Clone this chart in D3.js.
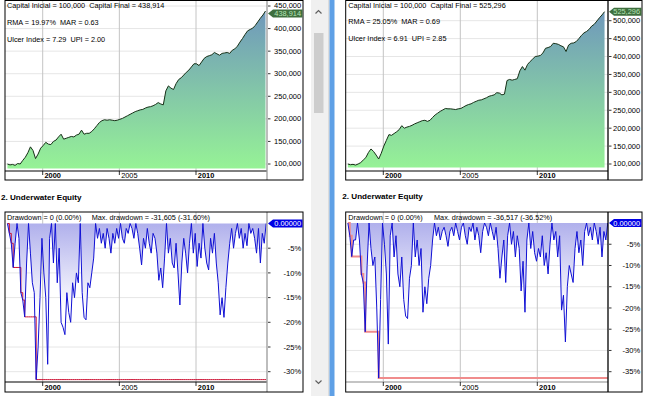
<!DOCTYPE html>
<html><head><meta charset="utf-8">
<script src="https://cdn.jsdelivr.net/npm/d3@7"></script>
<style>
html,body{margin:0;padding:0;background:#fff;overflow:hidden;}
svg{display:block;font-family:"Liberation Sans",Arial,sans-serif;}
text{white-space:pre;}
</style></head><body>
<svg id="c" width="650" height="396"></svg>
<script>
// ---------------- DATA ----------------
const yearTicks = [2000, 2005, 2010];
const equityStart = 1997.7, equityStep = 1 / 6;   // every two months
const ddStart = 1997.7, ddStep = 1 / 8;           // every 1.5 months

// equity in thousands
const equityLeft = [100,98,99,97,101,100,108,115,125,138,130,112,122,135,141,148,144,143,150,153,
  160,166,155,157,159,161,160,164,166,175,166,168,168,172,178,185,192,196,198,197,
  198,197,196,197,199,201,204,207,210,213,216,218,220,221,224,226,227,229,232,236,
  233,231,262,273,268,265,278,287,291,297,303,308,315,322,322,318,326,334,338,340,
  342,347,344,341,345,346,347,345,352,355,361,370,378,387,395,398,401,407,415,423,
  430,438.914];
const equityRight = [100,98,99,97,100,104,111,118,132,142,135,125,114,130,150,166,182,180,185,190,
  196,207,200,203,205,208,212,215,218,221,222,219,222,230,237,242,247,251,255,254,
  254,253,252,254,255,259,263,266,268,272,275,278,279,282,285,289,291,293,299,298,
  293,295,333,336,334,336,338,360,372,362,378,386,393,400,401,403,410,423,425,428,
  437,436,434,430,427,414,432,437,438,442,450,459,466,470,476,485,490,499,508,516,
  525.296];

// drawdown in percent
const drawdownLeft = [0,-2,-4,-8.9,-4,0,-3,-14,-15.5,-18.9,-8,0,-6,-12,-14,-31.6,-25,-15,-3,-10,
  -15,-28.5,-3,0,-8,0,-12,-5,-20,-21,-22.5,-14,-18,-20,-12,-15,-10,-12,0,-14,
  -19,-19.5,-12,-13,-10,-7,0,-3,-1,-4,-2,-5,-1,-3,-6,-2,-4,-1,-3,0,
  -3,-4,-1,-2,0,-1,-3,0,-2,-5,-8.4,-3,-5,-1,-4,-6,-2,-3,-6,-11.5,
  -9,-13,-7,0,-6,-3,-8,-9,-4,-10,-16.5,-8,-3,-6,-10,-4,0,-6,-2,-8.7,
  -4,-7,0,-5,-8,-9.4,-3,-6,-2,-8,-12,-18.5,-15,-19,-13,-8,-4,-1,-5,-2,
  0,-3,-1,-5,-2,-4.5,0,-2,-1,-3,-6,-1,-8,-2,-4,0];
const drawdownRight = [0,-3,-7.9,-4,-4,0,-4,-12,-14,-25.6,-10,0,-6,-10,-8,-20,-36.5,-18,0,-5,
  -12,-28.5,-3,0,-8,-3,-12,-15,-8,-18,-21.9,-22.5,-13,-10,0,-8,-4,-10,-6,-21,
  -15,-19,-13,-10,-4,0,-3,-1,-4,-2,-1,-3,-5.5,-2,-1,-3,0,-2,-4,-1,
  0,-3,-5,-1,-2,0,-4,-1,-3,-7,-2,0,-1,-3,0,-2,-4,-1,-6,-13,
  -8,-4,-14,-3,0,-5,-2,-8,-3,-6,-16,-9,-21,-4,0,-6,-2,-7,-9,-6,
  -8,-3,-10,-7,-12,-5,0,-4,-2,-8,-3,-20.5,-17,-28,-15,-10,-12,-14,-6,-2,
  -7,-4,-10,-2,0,-3,-1,-4,0,-2,-5,-1,-8,-2,-4,0];

const equityTicksLeft = [100000,150000,200000,250000,300000,350000,400000,450000];
const equityTicksRight = [100000,150000,200000,250000,300000,350000,400000,450000,500000];
const ddTicksLeft = [-5,-10,-15,-20,-25,-30];
const ddTicksRight = [-5,-10,-15,-20,-25,-30,-35];

const statsLeft = ["Capital Inicial = 100,000  Capital Final = 438,914", "RMA = 19.97%  MAR = 0.63", "Ulcer Index = 7.29  UPI = 2.00"];
const statsRight = ["Capital Inicial = 100,000  Capital Final = 525,296", "RMA = 25.05%  MAR = 0.69", "Ulcer Index = 6.91  UPI = 2.85"];
const ddTextLeft = ["Drawdown = 0 (0.00%)", "Max. drawdown = -31,605 (-31.60%)"];
const ddTextRight = ["Drawdown = 0 (0.00%)", "Max. drawdown = -36,517 (-36.52%)"];
const finalLeft = "438,914", finalRight = "525,296";
const ddCurrent = "0.00000";
const panelTitle = "2. Underwater Equity";

// ---------------- LAYOUT ----------------
const svg = d3.select("#c");
const fmt = d3.format(",");

const panels = [
  { id: "L", fx0: 5, fx1: 303, px1: 267, x2000: 42.7, x2010: 196,
    eq: equityLeft, eqTicks: equityTicksLeft, eqTop: 450000, eqTopPx: 6,
    dd: drawdownLeft, ddTicks: ddTicksLeft, ddMin: -30, ddMinPx: 371.7, dd0Px: 223.5,
    stats: statsLeft, statsY: [5.7, 22.3, 39], statsX: 7,
    ddText: ddTextLeft, ddText2X: 91.7, final: finalLeft, finalY: 13.6,
    titleX: 1, titleY: 197,
    vAxis: "#9a9a9a", hAxisEq: "#000", hAxisDd: "#000",
    red: "#cc1133", redW: 1 },
  { id: "R", fx0: 345.7, fx1: 642, px1: 608, x2000: 383.3, x2010: 537.3,
    eq: equityRight, eqTicks: equityTicksRight, eqTop: 500000, eqTopPx: 20.7,
    dd: drawdownRight, ddTicks: ddTicksRight, ddMin: -35, ddMinPx: 371.7, dd0Px: 223,
    stats: statsRight, statsY: [5, 21.7, 38.3], statsX: 348.3,
    ddText: ddTextRight, ddText2X: 434, final: finalRight, finalY: 11.8,
    titleX: 342.3, titleY: 196,
    vAxis: "#000", hAxisEq: "#000", hAxisDd: "#8a8a8a",
    red: "#f08c8c", redW: 2 }
];

// background pieces: scrollbar + splitter
svg.append("rect").attr("x", 0).attr("y", 0).attr("width", 650).attr("height", 396).attr("fill", "#fff");
svg.append("rect").attr("x", 311).attr("y", 0).attr("width", 17).attr("height", 396).attr("fill", "#f0f0f0");
svg.append("rect").attr("x", 314).attr("y", 33).attr("width", 9.5).attr("height", 80).attr("fill", "#cdcdcd");
svg.append("path").attr("d", "M315.5,13.5 L318.5,10.5 L321.5,13.5").attr("fill", "none").attr("stroke", "#606060").attr("stroke-width", 1.2);
svg.append("path").attr("d", "M315.5,380.5 L318.5,383.5 L321.5,380.5").attr("fill", "none").attr("stroke", "#606060").attr("stroke-width", 1.2);
svg.append("rect").attr("x", 328).attr("y", 0).attr("width", 1.5).attr("height", 396).attr("fill", "#dcdcdc");
svg.append("rect").attr("x", 329.5).attr("y", 0).attr("width", 5).attr("height", 396).attr("fill", "#5fa0e6");

const defs = svg.append("defs");

function valueTag(g, x0, x1, yc, fill, color, text) {
  const h = 4;
  g.append("path")
    .attr("d", `M${x0},${yc} L${x0 + 5},${yc - h} L${x1},${yc - h} L${x1},${yc + h} L${x0 + 5},${yc + h} Z`)
    .attr("fill", fill);
  g.append("text").attr("x", x1 - 1.5).attr("y", yc).attr("dy", "0.36em")
    .attr("text-anchor", "end").attr("font-size", 7.4).attr("fill", color).text(text);
}

panels.forEach(p => {
  const g = svg.append("g");
  const x = d3.scaleLinear().domain([2000, 2010]).range([p.x2000, p.x2010]);

  // ===== Equity chart =====
  const eTop = 0.5, eBot = 180, eAxis = 171;
  const yE = d3.scaleLinear().domain([100000, p.eqTop]).range([164, p.eqTopPx]);
  const eqData = p.eq.map((v, i) => ({ t: equityStart + i * equityStep, v: v * 1000 }));

  g.append("rect").attr("x", p.fx0).attr("y", eTop).attr("width", p.fx1 - p.fx0).attr("height", eBot - eTop).attr("fill", "#fff");
  const clipE = "clipE" + p.id;
  defs.append("clipPath").attr("id", clipE).append("rect")
    .attr("x", p.fx0).attr("y", eTop).attr("width", p.px1 - p.fx0).attr("height", eAxis - eTop);

  g.selectAll(null).data(p.eqTicks).join("line")
    .attr("x1", p.fx0).attr("x2", p.px1).attr("y1", d => yE(d)).attr("y2", d => yE(d))
    .attr("stroke", "#e6e6e6").attr("stroke-width", 1);
  g.selectAll(null).data(yearTicks).join("line")
    .attr("x1", d => x(d)).attr("x2", d => x(d)).attr("y1", eTop).attr("y2", eAxis)
    .attr("stroke", "#c4c4c4").attr("stroke-width", 1);

  const gradE = "gradE" + p.id;
  const lg = defs.append("linearGradient").attr("id", gradE).attr("gradientUnits", "userSpaceOnUse")
    .attr("x1", 0).attr("x2", 0).attr("y1", 8).attr("y2", 168);
  lg.append("stop").attr("offset", 0).attr("stop-color", "#6e96bc");
  lg.append("stop").attr("offset", 1).attr("stop-color", "#96f296");

  const ge = g.append("g").attr("clip-path", `url(#${clipE})`);
  ge.append("path").datum(eqData)
    .attr("d", d3.area().x(d => x(d.t)).y0(yE(90000)).y1(d => yE(d.v)))
    .attr("fill", `url(#${gradE})`);
  ge.append("path").datum(eqData)
    .attr("d", d3.line().x(d => x(d.t)).y(d => yE(d.v)))
    .attr("fill", "none").attr("stroke", "#173017").attr("stroke-width", 1);

  g.append("line").attr("x1", p.fx0).attr("x2", p.px1).attr("y1", eAxis).attr("y2", eAxis)
    .attr("stroke", p.hAxisEq).attr("stroke-width", 1);
  g.append("line").attr("x1", p.px1).attr("x2", p.px1).attr("y1", eTop).attr("y2", eBot)
    .attr("stroke", p.vAxis).attr("stroke-width", 1.3);
  g.selectAll(null).data(yearTicks).join("line")
    .attr("x1", d => x(d)).attr("x2", d => x(d)).attr("y1", eAxis).attr("y2", eAxis + 4)
    .attr("stroke", "#000").attr("stroke-width", 0.8);
  g.selectAll(null).data(yearTicks).join("text")
    .attr("x", d => x(d) + 1.8).attr("y", eAxis + 4.7).attr("dy", "0.36em")
    .attr("font-size", 7.4).attr("font-weight", d => d % 10 === 0 ? "bold" : "normal")
    .attr("fill", "#000").text(d => d);
  g.selectAll(null).data(p.eqTicks).join("line")
    .attr("x1", p.px1 + 1).attr("x2", p.px1 + 3.5).attr("y1", d => yE(d)).attr("y2", d => yE(d))
    .attr("stroke", "#000").attr("stroke-width", 0.8);
  g.selectAll(null).data(p.eqTicks).join("text")
    .attr("x", p.fx1 - 1.8).attr("y", d => yE(d)).attr("dy", "0.33em")
    .attr("text-anchor", "end").attr("font-size", 7.5).attr("fill", "#000").text(d => fmt(d));

  g.append("rect").attr("x", p.fx0).attr("y", eTop).attr("width", p.fx1 - p.fx0).attr("height", eBot - eTop)
    .attr("fill", "none").attr("stroke", "#000").attr("stroke-width", 1);

  valueTag(g, p.px1 + 1, p.fx1 - 0.5, p.finalY, "#3e6e3e", "#b6e4b6", p.final);

  g.selectAll(null).data(p.stats).join("text")
    .attr("x", p.statsX).attr("y", (d, i) => p.statsY[i]).attr("dy", "0.36em")
    .attr("font-size", 7.3).attr("fill", "#000").text(d => d);

  // ===== Underwater chart =====
  const uTop = 212, uBot = 392, uAxis = 382;
  g.append("text").attr("x", p.titleX).attr("y", p.titleY).attr("dy", "0.36em")
    .attr("font-size", 8.1).attr("font-weight", "bold").attr("fill", "#000").text(panelTitle);

  const yD = d3.scaleLinear().domain([0, p.ddMin]).range([p.dd0Px, p.ddMinPx]);
  const ddData = p.dd.map((v, i) => ({ t: ddStart + i * ddStep, v }));
  let runMin = 0;
  const maxDD = ddData.map(d => { runMin = Math.min(runMin, d.v); return { t: d.t, v: runMin }; });

  g.append("rect").attr("x", p.fx0).attr("y", uTop).attr("width", p.fx1 - p.fx0).attr("height", uBot - uTop).attr("fill", "#fff");
  const clipU = "clipU" + p.id;
  defs.append("clipPath").attr("id", clipU).append("rect")
    .attr("x", p.fx0).attr("y", uTop).attr("width", p.px1 - p.fx0).attr("height", uAxis - uTop);

  g.selectAll(null).data(p.ddTicks).join("line")
    .attr("x1", p.fx0).attr("x2", p.px1).attr("y1", d => yD(d)).attr("y2", d => yD(d))
    .attr("stroke", "#e6e6e6").attr("stroke-width", 1);
  g.selectAll(null).data(yearTicks).join("line")
    .attr("x1", d => x(d)).attr("x2", d => x(d)).attr("y1", uTop).attr("y2", uAxis)
    .attr("stroke", "#c4c4c4").attr("stroke-width", 1);

  const gradU = "gradU" + p.id;
  const lu = defs.append("linearGradient").attr("id", gradU).attr("gradientUnits", "userSpaceOnUse")
    .attr("x1", 0).attr("x2", 0).attr("y1", p.dd0Px).attr("y2", p.dd0Px + 85);
  lu.append("stop").attr("offset", 0).attr("stop-color", "#b0b0ec");
  lu.append("stop").attr("offset", 1).attr("stop-color", "#ffffff");

  const gu = g.append("g").attr("clip-path", `url(#${clipU})`);
  gu.append("path").datum(ddData)
    .attr("d", d3.area().x(d => x(d.t)).y0(yD(0)).y1(d => yD(d.v)))
    .attr("fill", `url(#${gradU})`);
  gu.append("path").datum(maxDD)
    .attr("d", d3.line().curve(d3.curveStepAfter).x(d => x(d.t)).y(d => yD(d.v)))
    .attr("fill", "none").attr("stroke", p.red).attr("stroke-width", p.redW);
  gu.append("path").datum(ddData)
    .attr("d", d3.line().x(d => x(d.t)).y(d => yD(d.v)))
    .attr("fill", "none").attr("stroke", "#1010d4").attr("stroke-width", 1);

  g.append("line").attr("x1", p.fx0).attr("x2", p.px1).attr("y1", uAxis).attr("y2", uAxis)
    .attr("stroke", p.hAxisDd).attr("stroke-width", 1.2);
  g.append("line").attr("x1", p.px1).attr("x2", p.px1).attr("y1", uTop).attr("y2", uBot)
    .attr("stroke", p.vAxis).attr("stroke-width", 1.3);
  g.selectAll(null).data(yearTicks).join("line")
    .attr("x1", d => x(d)).attr("x2", d => x(d)).attr("y1", uAxis).attr("y2", uAxis + 4)
    .attr("stroke", "#000").attr("stroke-width", 0.8);
  g.selectAll(null).data(yearTicks).join("text")
    .attr("x", d => x(d) + 1.8).attr("y", uAxis + 4.9).attr("dy", "0.36em")
    .attr("font-size", 7.4).attr("font-weight", d => d % 10 === 0 ? "bold" : "normal")
    .attr("fill", "#000").text(d => d);
  g.selectAll(null).data(p.ddTicks).join("line")
    .attr("x1", p.px1 + 1).attr("x2", p.px1 + 3.5).attr("y1", d => yD(d)).attr("y2", d => yD(d))
    .attr("stroke", "#000").attr("stroke-width", 0.8);
  g.selectAll(null).data(p.ddTicks).join("text")
    .attr("x", p.fx1 - 1.8).attr("y", d => yD(d)).attr("dy", "0.36em")
    .attr("text-anchor", "end").attr("font-size", 7.6).attr("fill", "#000").text(d => d + "%");

  g.append("rect").attr("x", p.fx0).attr("y", uTop).attr("width", p.fx1 - p.fx0).attr("height", uBot - uTop)
    .attr("fill", "none").attr("stroke", "#000").attr("stroke-width", 1);

  valueTag(g, p.px1 + 1, p.fx1 - 0.5, p.dd0Px, "#0000e6", "#ffffff", ddCurrent);

  g.append("text").attr("x", p.statsX).attr("y", 217.3).attr("dy", "0.36em")
    .attr("font-size", 7.3).attr("fill", "#000").text(p.ddText[0]);
  g.append("text").attr("x", p.ddText2X).attr("y", 217.3).attr("dy", "0.36em")
    .attr("font-size", 7.3).attr("fill", "#000").text(p.ddText[1]);
});
</script>
</body></html>
